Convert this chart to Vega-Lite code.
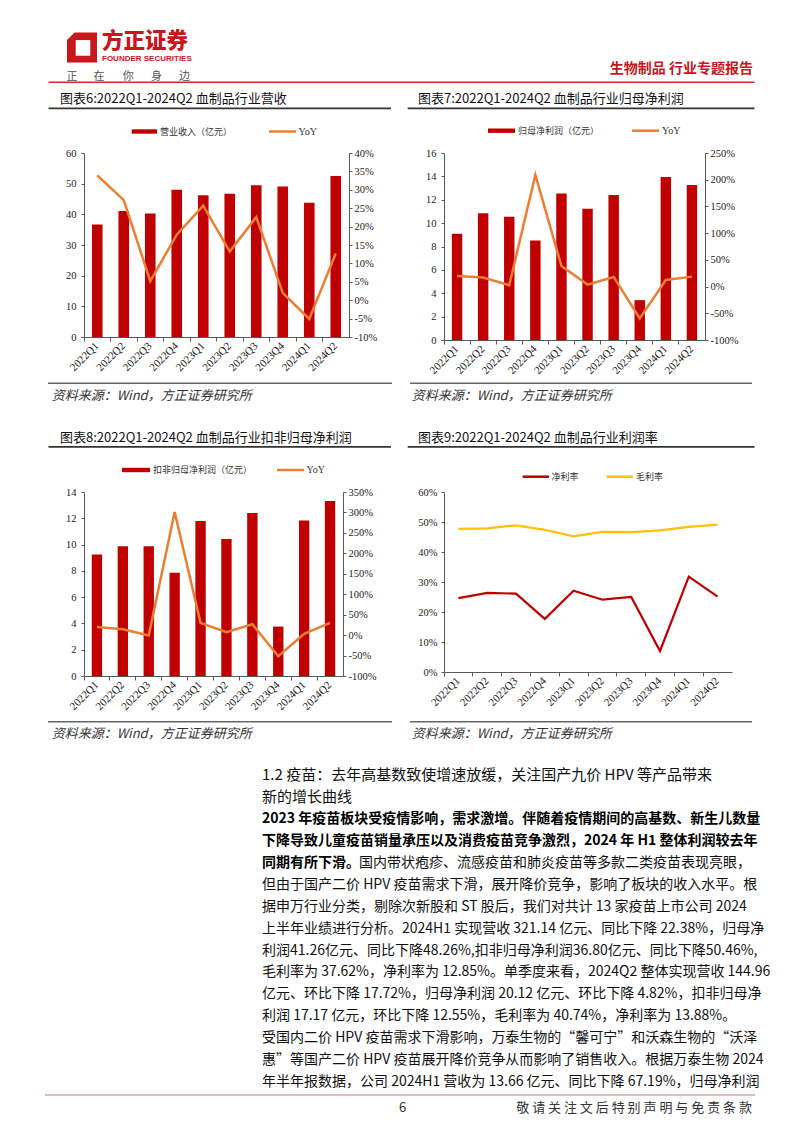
{
  "$schema": "https://vega.github.io/schema/vega-lite/v6.json",
  "background": "white",
  "padding": 0,
  "config": {
    "view": {"stroke": null},
    "font": "Noto Sans CJK SC",
    "axis": {"grid": false, "labelFont": "Liberation Serif", "labelFontSize": 10.5, "labelColor": "#222", "domainColor": "#595959", "tickColor": "#595959", "tickSize": 3, "labelOverlap": false, "labelFlush": false}
  },
  "datasets": {
    "fin": [
      {"q": "2022Q1", "rev": 36.7, "revYoy": 33.9, "np": 9.09, "npYoy": 19.9, "dnp": 9.25, "dnpYoy": 20.0, "net": 24.6, "gross": 47.7},
      {"q": "2022Q2", "rev": 41.1, "revYoy": 27.2, "np": 10.85, "npYoy": 16.8, "dnp": 9.88, "dnpYoy": 14.4, "net": 26.4, "gross": 47.9},
      {"q": "2022Q3", "rev": 40.3, "revYoy": 5.2, "np": 10.54, "npYoy": 2.5, "dnp": 9.88, "dnpYoy": -1.0, "net": 26.1, "gross": 48.9},
      {"q": "2022Q4", "rev": 48.0, "revYoy": 17.8, "np": 8.52, "npYoy": 208.8, "dnp": 7.85, "dnpYoy": 301.0, "net": 17.7, "gross": 47.4},
      {"q": "2023Q1", "rev": 46.2, "revYoy": 25.7, "np": 12.53, "npYoy": 38.5, "dnp": 11.79, "dnpYoy": 29.9, "net": 27.1, "gross": 45.2},
      {"q": "2023Q2", "rev": 46.7, "revYoy": 13.2, "np": 11.22, "npYoy": 3.7, "dnp": 10.42, "dnpYoy": 7.0, "net": 24.1, "gross": 46.7},
      {"q": "2023Q3", "rev": 49.5, "revYoy": 22.6, "np": 12.41, "npYoy": 18.0, "dnp": 12.40, "dnpYoy": 26.6, "net": 25.0, "gross": 46.6},
      {"q": "2023Q4", "rev": 49.1, "revYoy": 2.0, "np": 3.41, "npYoy": -59.7, "dnp": 3.76, "dnpYoy": -51.8, "net": 7.0, "gross": 47.2},
      {"q": "2024Q1", "rev": 43.8, "revYoy": -5.1, "np": 13.95, "npYoy": 12.4, "dnp": 11.84, "dnpYoy": 3.0, "net": 31.8, "gross": 48.4},
      {"q": "2024Q2", "rev": 52.5, "revYoy": 12.7, "np": 13.27, "npYoy": 18.6, "dnp": 13.31, "dnpYoy": 29.9, "net": 25.1, "gross": 49.1}
    ],
    "para": [
      {"line": -1, "kind": "head", "t": "1.2 疫苗：去年高基数致使增速放缓，关注国产九价 HPV 等产品带来"},
      {"line": 0, "kind": "head", "t": "新的增长曲线"},
      {"line": 1, "kind": "lead", "t": "2023 年疫苗板块受疫情影响，需求激增。伴随着疫情期间的高基数、新生儿数量"},
      {"line": 2, "kind": "lead", "t": "下降导致儿童疫苗销量承压以及消费疫苗竞争激烈，2024 年 H1 整体利润较去年"},
      {"line": 3, "kind": "lead", "t": "同期有所下滑。"},
      {"line": 3, "kind": "tail", "t": "国内带状疱疹、流感疫苗和肺炎疫苗等多款二类疫苗表现亮眼，"},
      {"line": 4, "kind": "body", "t": "但由于国产二价 HPV 疫苗需求下滑，展开降价竞争，影响了板块的收入水平。根"},
      {"line": 5, "kind": "body", "t": "据申万行业分类，剔除次新股和 ST 股后，我们对共计 13 家疫苗上市公司 2024"},
      {"line": 6, "kind": "body", "t": "上半年业绩进行分析。2024H1 实现营收 321.14 亿元、同比下降 22.38%，归母净"},
      {"line": 7, "kind": "body", "t": "利润41.26亿元、同比下降48.26%,扣非归母净利润36.80亿元、同比下降50.46%,"},
      {"line": 8, "kind": "body", "t": "毛利率为 37.62%，净利率为 12.85%。单季度来看，2024Q2 整体实现营收 144.96"},
      {"line": 9, "kind": "body", "t": "亿元、环比下降 17.72%，归母净利润 20.12 亿元、环比下降 4.82%，扣非归母净"},
      {"line": 10, "kind": "body", "t": "利润 17.17 亿元，环比下降 12.55%，毛利率为 40.74%，净利率为 13.88%。"},
      {"line": 11, "kind": "body", "t": "受国内二价 HPV 疫苗需求下滑影响，万泰生物的“馨可宁”和沃森生物的“沃泽"},
      {"line": 12, "kind": "body", "t": "惠”等国产二价 HPV 疫苗展开降价竞争从而影响了销售收入。根据万泰生物 2024"},
      {"line": 13, "kind": "body", "t": "年半年报数据，公司 2024H1 营收为 13.66 亿元、同比下降 67.19%，归母净利润"}
    ]
  },
  "columns": 4,
  "spacing": 0,
  "bounds": "flush",
  "align": "each",
  "concat": [
    {
      "width": 84, "height": 153,
      "layer": [
        {"data": {"values": [{}]}, "mark": {"type": "point", "shape": "M-0.5,-1L1,-1L1,1L-1,1L-1,-0.5Z M-0.42,-0.5L-0.42,0.55L0.55,0.55L0.55,-0.5Z", "size": 900, "filled": true, "color": "#C8161D", "opacity": 1, "strokeWidth": 0},
         "encoding": {"x": {"datum": 82, "type": "quantitative", "scale": {"domain": [0, 84], "nice": false, "zero": false}, "axis": null}, "y": {"datum": 47.5, "type": "quantitative", "scale": {"domain": [0, 153], "nice": false, "zero": false, "reverse": true}, "axis": null}}},
        {"data": {"values": [{"t": "方正证券"}]}, "mark": {"type": "text", "align": "left", "baseline": "middle", "fontSize": 21.5, "fontWeight": 900, "color": "#C8161D"},
         "encoding": {"text": {"field": "t"}, "x": {"datum": 102, "type": "quantitative", "scale": {"domain": [0, 84], "nice": false, "zero": false}, "axis": null}, "y": {"datum": 42, "type": "quantitative", "scale": {"domain": [0, 153], "nice": false, "zero": false, "reverse": true}, "axis": null}}},
        {"data": {"values": [{"t": "FOUNDER SECURITIES"}]}, "mark": {"type": "text", "align": "left", "baseline": "middle", "font": "Liberation Sans", "fontSize": 8, "fontWeight": "bold", "color": "#C8161D"},
         "encoding": {"text": {"field": "t"}, "x": {"datum": 102, "type": "quantitative", "scale": {"domain": [0, 84], "nice": false, "zero": false}, "axis": null}, "y": {"datum": 59.3, "type": "quantitative", "scale": {"domain": [0, 153], "nice": false, "zero": false, "reverse": true}, "axis": null}}},
        {"data": {"values": [{"t": "正"}]}, "mark": {"type": "text", "align": "left", "baseline": "middle", "fontSize": 11, "color": "#555"},
         "encoding": {"text": {"field": "t"}, "x": {"datum": 66.5, "type": "quantitative", "scale": {"domain": [0, 84], "nice": false, "zero": false}, "axis": null}, "y": {"datum": 76.5, "type": "quantitative", "scale": {"domain": [0, 153], "nice": false, "zero": false, "reverse": true}, "axis": null}}},
        {"data": {"values": [{"t": "在"}]}, "mark": {"type": "text", "align": "left", "baseline": "middle", "fontSize": 11, "color": "#555"},
         "encoding": {"text": {"field": "t"}, "x": {"datum": 93.6, "type": "quantitative", "scale": {"domain": [0, 84], "nice": false, "zero": false}, "axis": null}, "y": {"datum": 76.5, "type": "quantitative", "scale": {"domain": [0, 153], "nice": false, "zero": false, "reverse": true}, "axis": null}}},
        {"data": {"values": [{"t": "你"}]}, "mark": {"type": "text", "align": "left", "baseline": "middle", "fontSize": 11, "color": "#555"},
         "encoding": {"text": {"field": "t"}, "x": {"datum": 122.8, "type": "quantitative", "scale": {"domain": [0, 84], "nice": false, "zero": false}, "axis": null}, "y": {"datum": 76.5, "type": "quantitative", "scale": {"domain": [0, 153], "nice": false, "zero": false, "reverse": true}, "axis": null}}},
        {"data": {"values": [{"t": "身"}]}, "mark": {"type": "text", "align": "left", "baseline": "middle", "fontSize": 11, "color": "#555"},
         "encoding": {"text": {"field": "t"}, "x": {"datum": 150.9, "type": "quantitative", "scale": {"domain": [0, 84], "nice": false, "zero": false}, "axis": null}, "y": {"datum": 76.5, "type": "quantitative", "scale": {"domain": [0, 153], "nice": false, "zero": false, "reverse": true}, "axis": null}}},
        {"data": {"values": [{"t": "边"}]}, "mark": {"type": "text", "align": "left", "baseline": "middle", "fontSize": 11, "color": "#555"},
         "encoding": {"text": {"field": "t"}, "x": {"datum": 179, "type": "quantitative", "scale": {"domain": [0, 84], "nice": false, "zero": false}, "axis": null}, "y": {"datum": 76.5, "type": "quantitative", "scale": {"domain": [0, 153], "nice": false, "zero": false, "reverse": true}, "axis": null}}},
        {"data": {"values": [{"t": "生物制品 行业专题报告"}]}, "mark": {"type": "text", "align": "right", "baseline": "middle", "fontSize": 14, "fontWeight": "bold", "color": "#C8161D"},
         "encoding": {"text": {"field": "t"}, "x": {"datum": 753, "type": "quantitative", "scale": {"domain": [0, 84], "nice": false, "zero": false}, "axis": null}, "y": {"datum": 69, "type": "quantitative", "scale": {"domain": [0, 153], "nice": false, "zero": false, "reverse": true}, "axis": null}}},
        {"data": {"values": [{}]}, "mark": {"type": "rule", "color": "#D7282F", "strokeWidth": 1.5},
         "encoding": {"x": {"datum": 48.5, "type": "quantitative", "scale": {"domain": [0, 84], "nice": false, "zero": false}, "axis": null}, "x2": {"datum": 754.5}, "y": {"datum": 82.3, "type": "quantitative", "scale": {"domain": [0, 153], "nice": false, "zero": false, "reverse": true}, "axis": null}}},
        {"data": {"values": [{"t": "图表6:2022Q1-2024Q2 血制品行业营收"}]}, "mark": {"type": "text", "align": "left", "baseline": "middle", "fontSize": 13, "color": "#111"},
         "encoding": {"text": {"field": "t"}, "x": {"datum": 60, "type": "quantitative", "scale": {"domain": [0, 84], "nice": false, "zero": false}, "axis": null}, "y": {"datum": 99, "type": "quantitative", "scale": {"domain": [0, 153], "nice": false, "zero": false, "reverse": true}, "axis": null}}},
        {"data": {"values": [{"t": "图表7:2022Q1-2024Q2 血制品行业归母净利润"}]}, "mark": {"type": "text", "align": "left", "baseline": "middle", "fontSize": 13, "color": "#111"},
         "encoding": {"text": {"field": "t"}, "x": {"datum": 418, "type": "quantitative", "scale": {"domain": [0, 84], "nice": false, "zero": false}, "axis": null}, "y": {"datum": 99, "type": "quantitative", "scale": {"domain": [0, 153], "nice": false, "zero": false, "reverse": true}, "axis": null}}},
        {"data": {"values": [{}]}, "mark": {"type": "rule", "color": "#333", "strokeWidth": 1.8},
         "encoding": {"x": {"datum": 48.5, "type": "quantitative", "scale": {"domain": [0, 84], "nice": false, "zero": false}, "axis": null}, "x2": {"datum": 391}, "y": {"datum": 108.3, "type": "quantitative", "scale": {"domain": [0, 153], "nice": false, "zero": false, "reverse": true}, "axis": null}}},
        {"data": {"values": [{}]}, "mark": {"type": "rule", "color": "#333", "strokeWidth": 1.8},
         "encoding": {"x": {"datum": 407.7, "type": "quantitative", "scale": {"domain": [0, 84], "nice": false, "zero": false}, "axis": null}, "x2": {"datum": 754.5}, "y": {"datum": 108.3, "type": "quantitative", "scale": {"domain": [0, 153], "nice": false, "zero": false, "reverse": true}, "axis": null}}},
        {"data": {"values": [{}]}, "mark": {"type": "rect", "color": "#C00000"},
         "encoding": {"x": {"datum": 131.7, "type": "quantitative", "scale": {"domain": [0, 84], "nice": false, "zero": false}, "axis": null}, "x2": {"datum": 157}, "y": {"datum": 129.3, "type": "quantitative", "scale": {"domain": [0, 153], "nice": false, "zero": false, "reverse": true}, "axis": null}, "y2": {"datum": 133.7}}},
        {"data": {"values": [{"t": "营业收入（亿元）"}]}, "mark": {"type": "text", "align": "left", "baseline": "middle", "fontSize": 9, "color": "#333"},
         "encoding": {"text": {"field": "t"}, "x": {"datum": 160, "type": "quantitative", "scale": {"domain": [0, 84], "nice": false, "zero": false}, "axis": null}, "y": {"datum": 131.5, "type": "quantitative", "scale": {"domain": [0, 153], "nice": false, "zero": false, "reverse": true}, "axis": null}}},
        {"data": {"values": [{}]}, "mark": {"type": "rule", "color": "#ED7D31", "strokeWidth": 2.5},
         "encoding": {"x": {"datum": 269, "type": "quantitative", "scale": {"domain": [0, 84], "nice": false, "zero": false}, "axis": null}, "x2": {"datum": 296}, "y": {"datum": 131.5, "type": "quantitative", "scale": {"domain": [0, 153], "nice": false, "zero": false, "reverse": true}, "axis": null}}},
        {"data": {"values": [{"t": "YoY"}]}, "mark": {"type": "text", "align": "left", "baseline": "middle", "font": "Liberation Serif", "fontSize": 10, "color": "#333"},
         "encoding": {"text": {"field": "t"}, "x": {"datum": 298.5, "type": "quantitative", "scale": {"domain": [0, 84], "nice": false, "zero": false}, "axis": null}, "y": {"datum": 131.5, "type": "quantitative", "scale": {"domain": [0, 153], "nice": false, "zero": false, "reverse": true}, "axis": null}}},
        {"data": {"values": [{}]}, "mark": {"type": "rect", "color": "#C00000"},
         "encoding": {"x": {"datum": 488, "type": "quantitative", "scale": {"domain": [0, 84], "nice": false, "zero": false}, "axis": null}, "x2": {"datum": 515}, "y": {"datum": 128.5, "type": "quantitative", "scale": {"domain": [0, 153], "nice": false, "zero": false, "reverse": true}, "axis": null}, "y2": {"datum": 132.9}}},
        {"data": {"values": [{"t": "归母净利润（亿元）"}]}, "mark": {"type": "text", "align": "left", "baseline": "middle", "fontSize": 9, "color": "#333"},
         "encoding": {"text": {"field": "t"}, "x": {"datum": 518, "type": "quantitative", "scale": {"domain": [0, 84], "nice": false, "zero": false}, "axis": null}, "y": {"datum": 130.7, "type": "quantitative", "scale": {"domain": [0, 153], "nice": false, "zero": false, "reverse": true}, "axis": null}}},
        {"data": {"values": [{}]}, "mark": {"type": "rule", "color": "#ED7D31", "strokeWidth": 2.5},
         "encoding": {"x": {"datum": 632, "type": "quantitative", "scale": {"domain": [0, 84], "nice": false, "zero": false}, "axis": null}, "x2": {"datum": 659}, "y": {"datum": 130.7, "type": "quantitative", "scale": {"domain": [0, 153], "nice": false, "zero": false, "reverse": true}, "axis": null}}},
        {"data": {"values": [{"t": "YoY"}]}, "mark": {"type": "text", "align": "left", "baseline": "middle", "font": "Liberation Serif", "fontSize": 10, "color": "#333"},
         "encoding": {"text": {"field": "t"}, "x": {"datum": 662, "type": "quantitative", "scale": {"domain": [0, 84], "nice": false, "zero": false}, "axis": null}, "y": {"datum": 130.7, "type": "quantitative", "scale": {"domain": [0, 153], "nice": false, "zero": false, "reverse": true}, "axis": null}}}
      ]
    },
    {"width": 265, "height": 1, "data": {"values": []}, "mark": "point"},
    {"width": 95, "height": 1, "data": {"values": []}, "mark": "point"},
    {"width": 288, "height": 1, "data": {"values": []}, "mark": "point"},

    {"width": 84, "height": 1, "data": {"values": []}, "mark": "point"},
    {
      "width": 265, "height": 184,
      "data": {"name": "fin"},
      "encoding": {"x": {"field": "q", "type": "nominal", "sort": null, "title": null, "scale": {"paddingInner": 0, "paddingOuter": 0},
        "axis": {"labelAngle": -45, "labelAlign": "right", "labelBaseline": "middle", "labelPadding": 3, "bandPosition": 0, "tickSize": 4, "labelFontSize": 11}}},
      "layer": [
        {"mark": {"type": "bar", "color": "#C00000", "width": {"band": 0.4}},
         "encoding": {"y": {"field": "rev", "type": "quantitative", "title": null, "scale": {"domain": [0, 60], "nice": false}, "axis": {"values": [0, 10, 20, 30, 40, 50, 60], "labelPadding": 5}}}},
        {"mark": {"type": "line", "color": "#ED7D31", "strokeWidth": 2.5},
         "encoding": {"y": {"field": "revYoy", "type": "quantitative", "title": null, "scale": {"domain": [-10, 40], "nice": false, "zero": false}, "axis": {"orient": "right", "values": [-10, -5, 0, 5, 10, 15, 20, 25, 30, 35, 40], "labelExpr": "datum.value + '%'", "labelPadding": 2}}}}
      ],
      "resolve": {"scale": {"y": "independent"}}
    },
    {"width": 95, "height": 1, "data": {"values": []}, "mark": "point"},
    {
      "width": 261, "height": 187,
      "data": {"name": "fin"},
      "encoding": {"x": {"field": "q", "type": "nominal", "sort": null, "title": null, "scale": {"paddingInner": 0, "paddingOuter": 0},
        "axis": {"labelAngle": -45, "labelAlign": "right", "labelBaseline": "middle", "labelPadding": 3, "bandPosition": 0, "tickSize": 4, "labelFontSize": 11}}},
      "layer": [
        {"mark": {"type": "bar", "color": "#C00000", "width": {"band": 0.4}},
         "encoding": {"y": {"field": "np", "type": "quantitative", "title": null, "scale": {"domain": [0, 16], "nice": false}, "axis": {"values": [0, 2, 4, 6, 8, 10, 12, 14, 16], "labelPadding": 5}}}},
        {"mark": {"type": "line", "color": "#ED7D31", "strokeWidth": 2.5},
         "encoding": {"y": {"field": "npYoy", "type": "quantitative", "title": null, "scale": {"domain": [-100, 250], "nice": false, "zero": false}, "axis": {"orient": "right", "values": [-100, -50, 0, 50, 100, 150, 200, 250], "labelExpr": "datum.value + '%'", "labelPadding": 2}}}}
      ],
      "resolve": {"scale": {"y": "independent"}}
    },

    {
      "width": 84, "height": 152,
      "layer": [
        {"data": {"values": [{}]}, "mark": {"type": "rule", "color": "#666", "strokeWidth": 1.5},
         "encoding": {"x": {"datum": 48, "type": "quantitative", "scale": {"domain": [0, 84], "nice": false, "zero": false}, "axis": null}, "x2": {"datum": 392}, "y": {"datum": 383.3, "type": "quantitative", "scale": {"domain": [340, 492], "nice": false, "zero": false, "reverse": true}, "axis": null}}},
        {"data": {"values": [{}]}, "mark": {"type": "rule", "color": "#666", "strokeWidth": 1.5},
         "encoding": {"x": {"datum": 410, "type": "quantitative", "scale": {"domain": [0, 84], "nice": false, "zero": false}, "axis": null}, "x2": {"datum": 752}, "y": {"datum": 383.3, "type": "quantitative", "scale": {"domain": [340, 492], "nice": false, "zero": false, "reverse": true}, "axis": null}}},
        {"data": {"values": [{"t": "资料来源：Wind，方正证券研究所"}]}, "mark": {"type": "text", "align": "left", "baseline": "middle", "fontSize": 13, "fontStyle": "italic", "color": "#333"},
         "encoding": {"text": {"field": "t"}, "x": {"datum": 51.7, "type": "quantitative", "scale": {"domain": [0, 84], "nice": false, "zero": false}, "axis": null}, "y": {"datum": 395.5, "type": "quantitative", "scale": {"domain": [340, 492], "nice": false, "zero": false, "reverse": true}, "axis": null}}},
        {"data": {"values": [{"t": "资料来源：Wind，方正证券研究所"}]}, "mark": {"type": "text", "align": "left", "baseline": "middle", "fontSize": 13, "fontStyle": "italic", "color": "#333"},
         "encoding": {"text": {"field": "t"}, "x": {"datum": 411.7, "type": "quantitative", "scale": {"domain": [0, 84], "nice": false, "zero": false}, "axis": null}, "y": {"datum": 395.5, "type": "quantitative", "scale": {"domain": [340, 492], "nice": false, "zero": false, "reverse": true}, "axis": null}}},
        {"data": {"values": [{"t": "图表8:2022Q1-2024Q2 血制品行业扣非归母净利润"}]}, "mark": {"type": "text", "align": "left", "baseline": "middle", "fontSize": 13, "color": "#111"},
         "encoding": {"text": {"field": "t"}, "x": {"datum": 60, "type": "quantitative", "scale": {"domain": [0, 84], "nice": false, "zero": false}, "axis": null}, "y": {"datum": 437.5, "type": "quantitative", "scale": {"domain": [340, 492], "nice": false, "zero": false, "reverse": true}, "axis": null}}},
        {"data": {"values": [{"t": "图表9:2022Q1-2024Q2 血制品行业利润率"}]}, "mark": {"type": "text", "align": "left", "baseline": "middle", "fontSize": 13, "color": "#111"},
         "encoding": {"text": {"field": "t"}, "x": {"datum": 418, "type": "quantitative", "scale": {"domain": [0, 84], "nice": false, "zero": false}, "axis": null}, "y": {"datum": 437.5, "type": "quantitative", "scale": {"domain": [340, 492], "nice": false, "zero": false, "reverse": true}, "axis": null}}},
        {"data": {"values": [{}]}, "mark": {"type": "rule", "color": "#333", "strokeWidth": 1.8},
         "encoding": {"x": {"datum": 48.5, "type": "quantitative", "scale": {"domain": [0, 84], "nice": false, "zero": false}, "axis": null}, "x2": {"datum": 391}, "y": {"datum": 446.8, "type": "quantitative", "scale": {"domain": [340, 492], "nice": false, "zero": false, "reverse": true}, "axis": null}}},
        {"data": {"values": [{}]}, "mark": {"type": "rule", "color": "#333", "strokeWidth": 1.8},
         "encoding": {"x": {"datum": 407.7, "type": "quantitative", "scale": {"domain": [0, 84], "nice": false, "zero": false}, "axis": null}, "x2": {"datum": 754.5}, "y": {"datum": 446.8, "type": "quantitative", "scale": {"domain": [340, 492], "nice": false, "zero": false, "reverse": true}, "axis": null}}},
        {"data": {"values": [{}]}, "mark": {"type": "rect", "color": "#C00000"},
         "encoding": {"x": {"datum": 122, "type": "quantitative", "scale": {"domain": [0, 84], "nice": false, "zero": false}, "axis": null}, "x2": {"datum": 150}, "y": {"datum": 467.8, "type": "quantitative", "scale": {"domain": [340, 492], "nice": false, "zero": false, "reverse": true}, "axis": null}, "y2": {"datum": 472.2}}},
        {"data": {"values": [{"t": "扣非归母净利润（亿元）"}]}, "mark": {"type": "text", "align": "left", "baseline": "middle", "fontSize": 9, "color": "#333"},
         "encoding": {"text": {"field": "t"}, "x": {"datum": 153, "type": "quantitative", "scale": {"domain": [0, 84], "nice": false, "zero": false}, "axis": null}, "y": {"datum": 470, "type": "quantitative", "scale": {"domain": [340, 492], "nice": false, "zero": false, "reverse": true}, "axis": null}}},
        {"data": {"values": [{}]}, "mark": {"type": "rule", "color": "#ED7D31", "strokeWidth": 2.5},
         "encoding": {"x": {"datum": 277, "type": "quantitative", "scale": {"domain": [0, 84], "nice": false, "zero": false}, "axis": null}, "x2": {"datum": 304}, "y": {"datum": 470, "type": "quantitative", "scale": {"domain": [340, 492], "nice": false, "zero": false, "reverse": true}, "axis": null}}},
        {"data": {"values": [{"t": "YoY"}]}, "mark": {"type": "text", "align": "left", "baseline": "middle", "font": "Liberation Serif", "fontSize": 10, "color": "#333"},
         "encoding": {"text": {"field": "t"}, "x": {"datum": 306.5, "type": "quantitative", "scale": {"domain": [0, 84], "nice": false, "zero": false}, "axis": null}, "y": {"datum": 470, "type": "quantitative", "scale": {"domain": [340, 492], "nice": false, "zero": false, "reverse": true}, "axis": null}}},
        {"data": {"values": [{}]}, "mark": {"type": "rule", "color": "#C00000", "strokeWidth": 2.5},
         "encoding": {"x": {"datum": 522.7, "type": "quantitative", "scale": {"domain": [0, 84], "nice": false, "zero": false}, "axis": null}, "x2": {"datum": 549}, "y": {"datum": 476.7, "type": "quantitative", "scale": {"domain": [340, 492], "nice": false, "zero": false, "reverse": true}, "axis": null}}},
        {"data": {"values": [{"t": "净利率"}]}, "mark": {"type": "text", "align": "left", "baseline": "middle", "fontSize": 9, "color": "#333"},
         "encoding": {"text": {"field": "t"}, "x": {"datum": 551.5, "type": "quantitative", "scale": {"domain": [0, 84], "nice": false, "zero": false}, "axis": null}, "y": {"datum": 476.7, "type": "quantitative", "scale": {"domain": [340, 492], "nice": false, "zero": false, "reverse": true}, "axis": null}}},
        {"data": {"values": [{}]}, "mark": {"type": "rule", "color": "#FFC000", "strokeWidth": 2.5},
         "encoding": {"x": {"datum": 606.7, "type": "quantitative", "scale": {"domain": [0, 84], "nice": false, "zero": false}, "axis": null}, "x2": {"datum": 633}, "y": {"datum": 476.7, "type": "quantitative", "scale": {"domain": [340, 492], "nice": false, "zero": false, "reverse": true}, "axis": null}}},
        {"data": {"values": [{"t": "毛利率"}]}, "mark": {"type": "text", "align": "left", "baseline": "middle", "fontSize": 9, "color": "#333"},
         "encoding": {"text": {"field": "t"}, "x": {"datum": 636, "type": "quantitative", "scale": {"domain": [0, 84], "nice": false, "zero": false}, "axis": null}, "y": {"datum": 476.7, "type": "quantitative", "scale": {"domain": [340, 492], "nice": false, "zero": false, "reverse": true}, "axis": null}}}
      ]
    },
    {"width": 265, "height": 1, "data": {"values": []}, "mark": "point"},
    {"width": 95, "height": 1, "data": {"values": []}, "mark": "point"},
    {"width": 288, "height": 1, "data": {"values": []}, "mark": "point"},

    {"width": 84, "height": 1, "data": {"values": []}, "mark": "point"},
    {
      "width": 259, "height": 184,
      "data": {"name": "fin"},
      "encoding": {"x": {"field": "q", "type": "nominal", "sort": null, "title": null, "scale": {"paddingInner": 0, "paddingOuter": 0},
        "axis": {"labelAngle": -45, "labelAlign": "right", "labelBaseline": "middle", "labelPadding": 3, "bandPosition": 0, "tickSize": 4, "labelFontSize": 11}}},
      "layer": [
        {"mark": {"type": "bar", "color": "#C00000", "width": {"band": 0.4}},
         "encoding": {"y": {"field": "dnp", "type": "quantitative", "title": null, "scale": {"domain": [0, 14], "nice": false}, "axis": {"values": [0, 2, 4, 6, 8, 10, 12, 14], "labelPadding": 5}}}},
        {"mark": {"type": "line", "color": "#ED7D31", "strokeWidth": 2.5},
         "encoding": {"y": {"field": "dnpYoy", "type": "quantitative", "title": null, "scale": {"domain": [-100, 350], "nice": false, "zero": false}, "axis": {"orient": "right", "values": [-100, -50, 0, 50, 100, 150, 200, 250, 300, 350], "labelExpr": "datum.value + '%'", "labelPadding": 2}}}}
      ],
      "resolve": {"scale": {"y": "independent"}}
    },
    {"width": 95, "height": 1, "data": {"values": []}, "mark": "point"},
    {
      "width": 288, "height": 180,
      "data": {"name": "fin"},
      "encoding": {
        "x": {"field": "q", "type": "nominal", "sort": null, "title": null, "scale": {"type": "band", "paddingInner": 0, "paddingOuter": 0},
          "axis": {"labelAngle": -45, "labelAlign": "right", "labelBaseline": "middle", "labelPadding": 3, "bandPosition": 0, "tickExtra": true, "tickSize": 4, "labelFontSize": 11}}
      },
      "layer": [
        {"mark": {"type": "line", "color": "#C00000", "strokeWidth": 2.2},
         "encoding": {"y": {"field": "net", "type": "quantitative", "title": null, "scale": {"domain": [0, 60], "nice": false}, "axis": {"values": [0, 10, 20, 30, 40, 50, 60], "tickCount": 7, "labelExpr": "datum.value + '%'", "labelPadding": 4}}}},
        {"mark": {"type": "line", "color": "#FFC000", "strokeWidth": 2.2},
         "encoding": {"y": {"field": "gross", "type": "quantitative", "title": null, "scale": {"domain": [0, 60], "nice": false}, "axis": {"values": [0, 10, 20, 30, 40, 50, 60], "tickCount": 7, "labelExpr": "datum.value + '%'", "labelPadding": 4}}}}
      ]
    },

    {
      "width": 84, "height": 457,
      "layer": [
        {"data": {"values": [{}]}, "mark": {"type": "rule", "color": "#666", "strokeWidth": 1.5},
         "encoding": {"x": {"datum": 48, "type": "quantitative", "scale": {"domain": [0, 84], "nice": false, "zero": false}, "axis": null}, "x2": {"datum": 392}, "y": {"datum": 721.7, "type": "quantitative", "scale": {"domain": [676, 1133], "nice": false, "zero": false, "reverse": true}, "axis": null}}},
        {"data": {"values": [{}]}, "mark": {"type": "rule", "color": "#666", "strokeWidth": 1.5},
         "encoding": {"x": {"datum": 410, "type": "quantitative", "scale": {"domain": [0, 84], "nice": false, "zero": false}, "axis": null}, "x2": {"datum": 752}, "y": {"datum": 721.7, "type": "quantitative", "scale": {"domain": [676, 1133], "nice": false, "zero": false, "reverse": true}, "axis": null}}},
        {"data": {"values": [{"t": "资料来源：Wind，方正证券研究所"}]}, "mark": {"type": "text", "align": "left", "baseline": "middle", "fontSize": 13, "fontStyle": "italic", "color": "#333"},
         "encoding": {"text": {"field": "t"}, "x": {"datum": 51.7, "type": "quantitative", "scale": {"domain": [0, 84], "nice": false, "zero": false}, "axis": null}, "y": {"datum": 734, "type": "quantitative", "scale": {"domain": [676, 1133], "nice": false, "zero": false, "reverse": true}, "axis": null}}},
        {"data": {"values": [{"t": "资料来源：Wind，方正证券研究所"}]}, "mark": {"type": "text", "align": "left", "baseline": "middle", "fontSize": 13, "fontStyle": "italic", "color": "#333"},
         "encoding": {"text": {"field": "t"}, "x": {"datum": 411.7, "type": "quantitative", "scale": {"domain": [0, 84], "nice": false, "zero": false}, "axis": null}, "y": {"datum": 734, "type": "quantitative", "scale": {"domain": [676, 1133], "nice": false, "zero": false, "reverse": true}, "axis": null}}},
        {"data": {"name": "para"}, "transform": [{"filter": "datum.kind === 'head'"}],
         "mark": {"type": "text", "align": "left", "baseline": "middle", "font": "Liberation Sans Narrow, Noto Sans CJK SC", "fontSize": 15, "color": "#111"},
         "encoding": {"text": {"field": "t"}, "x": {"datum": 262, "type": "quantitative", "scale": {"domain": [0, 84], "nice": false, "zero": false}, "axis": null}, "y": {"field": "line", "type": "quantitative", "scale": {"domain": [-5.5237, 15.3248], "nice": false, "zero": false, "reverse": true}, "axis": null}}},
        {"data": {"name": "para"}, "transform": [{"filter": "datum.kind === 'lead'"}],
         "mark": {"type": "text", "align": "left", "baseline": "middle", "font": "Liberation Sans Narrow, Noto Sans CJK SC", "fontSize": 14, "fontWeight": "bold", "color": "#000"},
         "encoding": {"text": {"field": "t"}, "x": {"datum": 262, "type": "quantitative", "scale": {"domain": [0, 84], "nice": false, "zero": false}, "axis": null}, "y": {"field": "line", "type": "quantitative", "scale": {"domain": [-5.5237, 15.3248], "nice": false, "zero": false, "reverse": true}, "axis": null}}},
        {"data": {"name": "para"}, "transform": [{"filter": "datum.kind === 'body'"}],
         "mark": {"type": "text", "align": "left", "baseline": "middle", "font": "Liberation Sans Narrow, Noto Sans CJK SC", "fontSize": 14, "color": "#111"},
         "encoding": {"text": {"field": "t"}, "x": {"datum": 262, "type": "quantitative", "scale": {"domain": [0, 84], "nice": false, "zero": false}, "axis": null}, "y": {"field": "line", "type": "quantitative", "scale": {"domain": [-5.5237, 15.3248], "nice": false, "zero": false, "reverse": true}, "axis": null}}},
        {"data": {"name": "para"}, "transform": [{"filter": "datum.kind === 'tail'"}],
         "mark": {"type": "text", "align": "right", "baseline": "middle", "font": "Liberation Sans Narrow, Noto Sans CJK SC", "fontSize": 14, "color": "#111"},
         "encoding": {"text": {"field": "t"}, "x": {"datum": 751, "type": "quantitative", "scale": {"domain": [0, 84], "nice": false, "zero": false}, "axis": null}, "y": {"field": "line", "type": "quantitative", "scale": {"domain": [-5.5237, 15.3248], "nice": false, "zero": false, "reverse": true}, "axis": null}}},
        {"data": {"values": [{}]}, "mark": {"type": "rule", "color": "#E06C7C", "strokeWidth": 1.2},
         "encoding": {"x": {"datum": 45, "type": "quantitative", "scale": {"domain": [0, 84], "nice": false, "zero": false}, "axis": null}, "x2": {"datum": 755}, "y": {"datum": 1095, "type": "quantitative", "scale": {"domain": [676, 1133], "nice": false, "zero": false, "reverse": true}, "axis": null}}},
        {"data": {"values": [{"t": "6"}]}, "mark": {"type": "text", "align": "center", "baseline": "middle", "font": "Liberation Sans Narrow, Noto Sans CJK SC", "fontSize": 13, "color": "#333"},
         "encoding": {"text": {"field": "t"}, "x": {"datum": 402.7, "type": "quantitative", "scale": {"domain": [0, 84], "nice": false, "zero": false}, "axis": null}, "y": {"datum": 1108, "type": "quantitative", "scale": {"domain": [676, 1133], "nice": false, "zero": false, "reverse": true}, "axis": null}}},
        {"data": {"values": [{"t": "敬 请 关 注 文 后 特 别 声 明 与 免 责 条 款"}]}, "mark": {"type": "text", "align": "right", "baseline": "middle", "fontSize": 13, "color": "#333"},
         "encoding": {"text": {"field": "t"}, "x": {"datum": 752, "type": "quantitative", "scale": {"domain": [0, 84], "nice": false, "zero": false}, "axis": null}, "y": {"datum": 1108, "type": "quantitative", "scale": {"domain": [676, 1133], "nice": false, "zero": false, "reverse": true}, "axis": null}}}
      ],
      "resolve": {"scale": {"y": "independent"}}
    },
    {"width": 265, "height": 1, "data": {"values": []}, "mark": "point"},
    {"width": 95, "height": 1, "data": {"values": []}, "mark": "point"},
    {"width": 288, "height": 1, "data": {"values": []}, "mark": "point"}
  ]
}
